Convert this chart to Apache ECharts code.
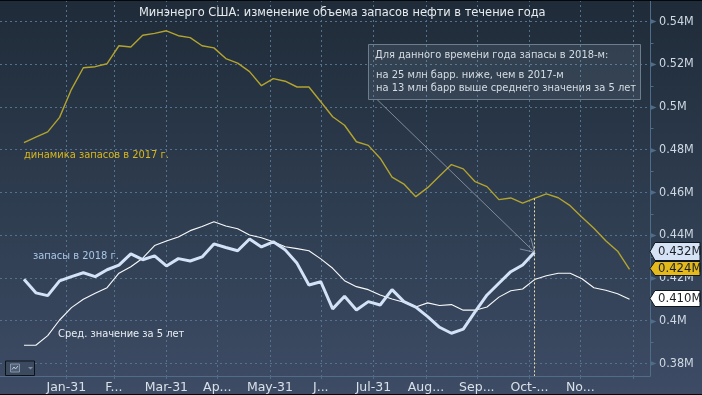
<!DOCTYPE html>
<html><head><meta charset="utf-8">
<style>html,body{margin:0;padding:0;background:#2c3a4c}#c{width:702px;height:395px}</style>
<script src="https://cdn.jsdelivr.net/npm/echarts@6/dist/echarts.min.js"></script>
</head><body><div id="c"></div>
<script>
const weeks = ["2017-01-06","2017-01-13","2017-01-20","2017-01-27","2017-02-03","2017-02-10","2017-02-17","2017-02-24","2017-03-03","2017-03-10","2017-03-17","2017-03-24","2017-03-31","2017-04-07","2017-04-14","2017-04-21","2017-04-28","2017-05-05","2017-05-12","2017-05-19","2017-05-26","2017-06-02","2017-06-09","2017-06-16","2017-06-23","2017-06-30","2017-07-07","2017-07-14","2017-07-21","2017-07-28","2017-08-04","2017-08-11","2017-08-18","2017-08-25","2017-09-01","2017-09-08","2017-09-15","2017-09-22","2017-09-29","2017-10-06","2017-10-13","2017-10-20","2017-10-27","2017-11-03","2017-11-10","2017-11-17","2017-11-24","2017-12-01","2017-12-08","2017-12-15","2017-12-22","2017-12-29"];
// thousands of barrels-scale values, axis shows them as 0.xxxM
const stocks2017 = [483.3,485.8,488.3,495.1,508.2,518.3,518.8,520.2,528.6,528,533.5,534.4,535.6,533.3,532.4,528.6,527.6,522.6,520.5,516.5,509.9,513.2,512,509.3,509.3,502.4,495.4,491.4,483.7,482,476,467.1,463.9,458,462.2,467.7,473,471,465,462.7,456.6,457.4,455,457.2,459.3,457.5,453.8,448.4,443.2,437.4,432.5,424];
const stocks2018 = [419.4,413,411.7,418.6,420.6,422.4,420.6,423.8,426,431.2,428.5,430.3,425.6,429,427.9,429.8,435.9,434.2,432.7,438.2,434.5,436.9,433.1,426.8,416.7,418.2,405.5,411.4,405,408.9,407.3,414.5,408.9,406.3,401.9,396.9,394.1,396,404.2,412,417.5,422.9,426,432];
const avg5y = [388.5,388.5,393,400.3,406.1,410,412.8,415.4,422.2,425.2,429.2,435.1,437.3,439.1,442.1,444,446.3,444.3,443,440.1,438.8,436.9,434.6,433.7,432.7,428.9,424.5,418.7,415.9,414.5,412,410.1,408.6,406.4,408.3,407.1,407.5,404.9,404.9,406.4,411,414,414.8,419.2,421,422.2,422.2,419.6,415.4,414.2,412.6,410];
const monthEnds = ["2017-01-31","2017-02-28","2017-03-31","2017-04-30","2017-05-31","2017-06-30","2017-07-31","2017-08-31","2017-09-30","2017-10-31","2017-11-30","2017-12-31"];
const monthLabels = ["Jan-31","F...","Mar-31","Ap...","May-31","J...","Jul-31","Aug...","Sep...","Oct-...","No...",""];
const yMajor = [380,400,420,440,460,480,500,520,540];
const yMinor = [390,410,430,450,470,490,510,530,550];
const yLabels = ["0.38M","0.4M","0.42M","0.44M","0.46M","0.48M","0.5M","0.52M","0.54M"];
const tagValues = [410,424,432];
const tagLabels = ["0.410M","0.424M","0.432M"];
const tagFills = ["#ffffff","#e3b91c","#d6e3f6"];

const FONT = '"DejaVu Sans Condensed","DejaVu Sans",sans-serif';
const ts = s => +new Date(s + "T00:00:00");
const xMin = +new Date("2016-12-22T21:00:00"), xMax = +new Date("2018-01-10T02:00:00");
const yMin = 374.1, yMax = 550;
const monthTs = monthEnds.map(ts);
const cursor = ts(weeks[stocks2018.length - 1]);
const pairs = a => a.map((v,i)=>[ts(weeks[i]),v]);

const chart = echarts.init(document.getElementById('c'),null,{renderer:'canvas'});
const GRIDC = '#54718d', AXISC = '#4f6d88';
chart.setOption({
  animation:false,
  backgroundColor:{type:'linear',x:0,y:0,x2:0,y2:1,colorStops:[{offset:0,color:'#1f2b38'},{offset:.5,color:'#2e3c4f'},{offset:1,color:'#3d4b65'}]},
  title:{text:'Минэнерго США: изменение объема запасов нефти в течение года',left:139,top:6,padding:0,
    textStyle:{color:'#e6ebf0',fontSize:12.7,fontWeight:'normal',fontFamily:FONT}},
  grid:{left:0,right:52,top:0,bottom:19},
  xAxis:{type:'value',min:xMin,max:xMax,scale:true,
    axisLine:{lineStyle:{color:AXISC,width:1}},
    axisTick:{show:true,length:3,customValues:monthTs,lineStyle:{color:AXISC}},
    splitLine:{show:true,lineStyle:{color:GRIDC,type:[2,3],width:1}},
    axisLabel:{customValues:monthTs,color:'#d8e0e8',fontSize:12.5,fontFamily:'"DejaVu Sans",sans-serif',margin:5,hideOverlap:false,showMinLabel:true,showMaxLabel:true,
      formatter:v=>monthLabels[monthTs.indexOf(+v)]||''}},
  yAxis:{type:'value',position:'right',min:yMin,max:yMax,scale:true,
    axisLine:{show:true,lineStyle:{color:AXISC,width:1}},
    axisTick:{show:false,customValues:yMajor},
    splitLine:{show:true,lineStyle:{color:GRIDC,type:[2,3],width:1}},
    axisLabel:{customValues:yMajor,color:'#cfd9e3',fontSize:12.5,fontFamily:FONT,margin:9,
      formatter:v=>yLabels[yMajor.indexOf(+v)]||''}},
  series:[
   {type:'line',name:'2017',data:pairs(stocks2017),showSymbol:false,symbol:'none',z:3,lineStyle:{color:'#b3a42e',width:1.4}},
   {type:'line',name:'avg',data:pairs(avg5y),showSymbol:false,symbol:'none',z:4,lineStyle:{color:'#f7f9fb',width:1.1}},
   {type:'line',name:'2018',data:pairs(stocks2018),showSymbol:false,symbol:'none',z:5,lineStyle:{color:'#d3e2f6',width:3},
     markLine:{silent:true,symbol:'none',label:{show:false},lineStyle:{color:'#e8dfa8',type:[2,2],width:1},
       data:[[{coord:[cursor,457.2]},{coord:[cursor,yMin]}]]}},
   {type:'custom',name:'ticks',silent:true,z:6,clip:false,data:yMajor.concat(yMinor).map(v=>[xMax,v]),
     renderItem:(p,api)=>{
       const c=api.coord([xMax,api.value(1)]);
       const x=Math.round(c[0])+.5,y=Math.round(c[1]);
       return api.value(1)%20===0
        ?{type:'polygon',shape:{points:[[x,y-2],[x+6,y+.5],[x,y+3]]},style:{fill:AXISC}}
        :{type:'line',shape:{x1:x,y1:y+.5,x2:x+3,y2:y+.5},style:{stroke:AXISC,lineWidth:1}};
     }},
   {type:'custom',name:'arrow',silent:true,z:7,clip:false,data:[[cursor,432]],
     renderItem:(p,api)=>{
       const t=api.coord([api.value(0),api.value(1)]);
       const s=[377,99.5];
       const a=Math.atan2(t[1]-s[1],t[0]-s[0]),L=15,w=.55;
       const h=d=>[t[0]-L*Math.cos(a+d),t[1]-L*Math.sin(a+d)];
       const st={stroke:'rgba(170,182,195,.65)',lineWidth:1,fill:null};
       return {type:'group',children:[
         {type:'line',shape:{x1:s[0],y1:s[1],x2:t[0],y2:t[1]},style:st},
         {type:'polyline',shape:{points:[h(w),t,h(-w)]},style:st}]};
     }},
   {type:'custom',name:'tags',silent:true,z:8,clip:false,data:tagValues.map(v=>[xMax,v]),
     renderItem:(p,api)=>{
       const i=p.dataIndex,c=api.coord([xMax,api.value(1)]);
       const y=Math.round(c[1])-.5,h=i===1?7:(i===2?9:8),x=650;
       return {type:'group',z2:i,children:[
        {type:'polygon',z2:i*2,shape:{points:[[x,y],[x+5,y-h],[700,y-h],[700,y+h],[x+5,y+h]]},style:{fill:tagFills[i],stroke:'#10161d',lineWidth:1}},
        {type:'text',z2:i*2+1,style:{x:658,y:y,text:tagLabels[i],fill:'#1b2026',font:'13px '+FONT,textVerticalAlign:'middle',textBaseline:'middle'}}]};
     }}
  ],
  graphic:[
   {type:'rect',z:20,silent:true,shape:{x:368.5,y:44.5,width:272,height:55},style:{fill:'rgba(150,170,190,.14)',stroke:'#6c7e8e',lineWidth:1}},
   {type:'text',z:21,silent:true,x:375,y:55,style:{text:'Для данного времени года запасы в 2018-м:',fill:'#d5dce3',font:'11px '+FONT,textVerticalAlign:'middle'}},
   {type:'text',z:21,silent:true,x:376,y:75,style:{text:'на 25 млн барр. ниже, чем в 2017-м',fill:'#d5dce3',font:'11px '+FONT,textVerticalAlign:'middle'}},
   {type:'text',z:21,silent:true,x:376,y:88.5,style:{text:'на 13 млн барр выше среднего значения за 5 лет',fill:'#d5dce3',font:'11px '+FONT,textVerticalAlign:'middle'}},
   {type:'text',z:21,silent:true,x:24,y:155,style:{text:'динамика запасов в 2017 г.',fill:'#d8b81c',font:'11px '+FONT,textVerticalAlign:'middle'}},
   {type:'text',z:21,silent:true,x:33,y:256,style:{text:'запасы в 2018 г.',fill:'#a8c6e6',font:'11px '+FONT,textVerticalAlign:'middle'}},
   {type:'text',z:21,silent:true,x:58,y:334,style:{text:'Сред. значение за 5 лет',fill:'#e8edf2',font:'11px '+FONT,textVerticalAlign:'middle'}},
   {type:'rect',z:22,silent:true,shape:{x:5.5,y:361,width:29,height:14.5},style:{fill:'#3c4a60',stroke:'#0d1218',lineWidth:1}},
   {type:'rect',z:23,silent:true,shape:{x:10.5,y:364,width:9,height:8},style:{fill:'#4d5d75',stroke:'#8795a6',lineWidth:1}},
   {type:'polyline',z:24,silent:true,shape:{points:[[12,369.5],[14,367],[15.5,369],[18,366]]},style:{stroke:'#c0cad4',lineWidth:1,fill:null}},
   {type:'polygon',z:23,silent:true,shape:{points:[[28,367],[33,367],[30.5,369.5]]},style:{fill:'#7f8c9c'}},
   {type:'rect',z:30,silent:true,shape:{x:0,y:0,width:702,height:1},style:{fill:'#05080b'}},
   {type:'rect',z:30,silent:true,shape:{x:0,y:394,width:702,height:1},style:{fill:'#05080b'}}
  ]
});
</script></body></html>
